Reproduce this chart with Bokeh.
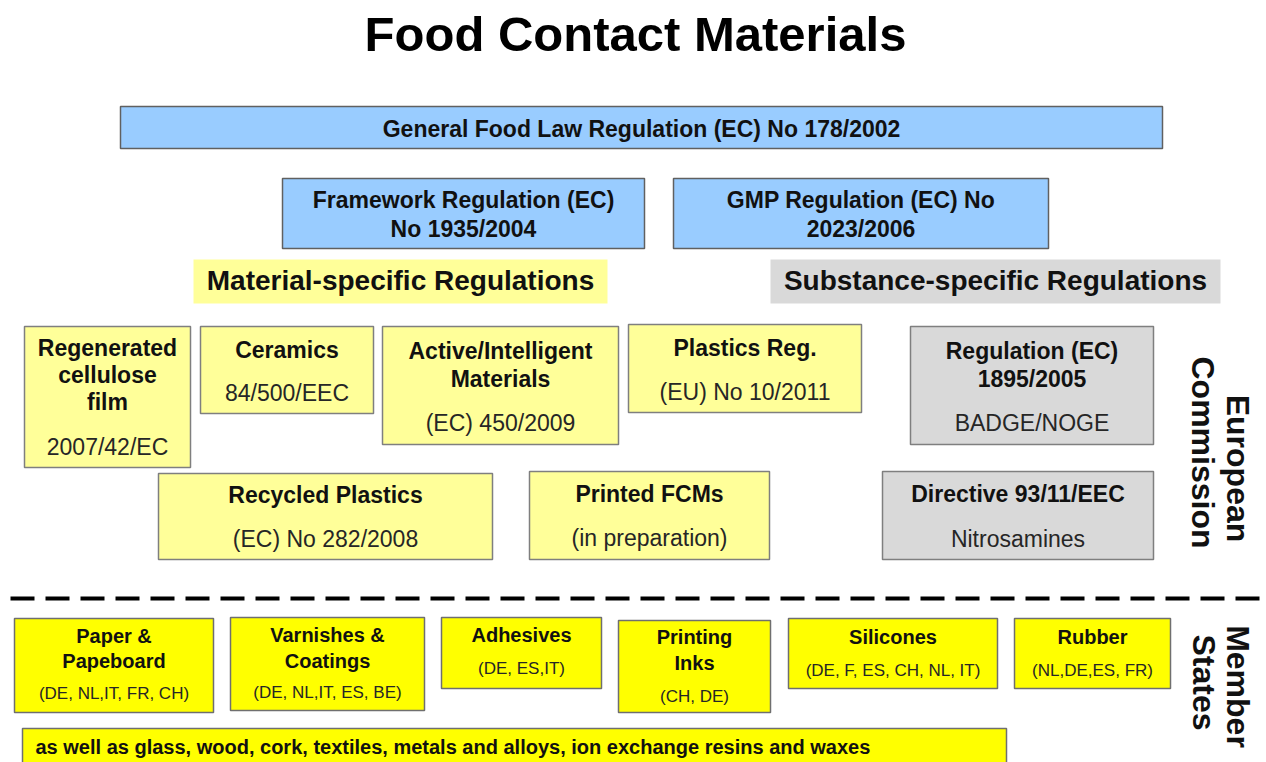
from math import pi
from bokeh.plotting import figure
from bokeh.models import Range1d
from bokeh.core.properties import value
from bokeh.embed import file_html
from bokeh.resources import INLINE

# ---------------- content ----------------
title = "Food Contact Materials"
general_law = ["General Food Law Regulation (EC) No 178/2002"]
framework_lines = [["Framework Regulation (EC)", "No 1935/2004"],
                   ["GMP Regulation (EC) No", "2023/2006"]]
group_labels = ["Material-specific Regulations", "Substance-specific Regulations"]
material_titles = [["Regenerated", "cellulose", "film"], ["Ceramics"],
                   ["Active/Intelligent", "Materials"], ["Plastics Reg."],
                   ["Recycled Plastics"], ["Printed FCMs"]]
material_refs = ["2007/42/EC", "84/500/EEC", "(EC) 450/2009", "(EU) No 10/2011",
                 "(EC) No 282/2008", "(in preparation)"]
substance_titles = [["Regulation (EC)", "1895/2005"], ["Directive 93/11/EEC"]]
substance_refs = ["BADGE/NOGE", "Nitrosamines"]
member_titles = [["Paper &", "Papeboard"], ["Varnishes &", "Coatings"], ["Adhesives"],
                 ["Printing", "Inks"], ["Silicones"], ["Rubber"]]
member_countries = ["(DE, NL,IT, FR, CH)", "(DE, NL,IT, ES, BE)", "(DE, ES,IT)",
                    "(CH, DE)", "(DE, F, ES, CH, NL, IT)", "(NL,DE,ES, FR)"]
other_materials = ["as well as glass, wood, cork, textiles, metals and alloys, ion exchange resins and waxes"]
side_labels = [["European", "Commission"], ["Member", "States"]]

# ---------------- layout (picture pixel coordinates) ----------------
general_box = [(120, 106, 1162, 148)]
general_text_y = [128]
framework_boxes = [(282, 178, 644, 248), (673, 178, 1048, 248)]
framework_text_y = [199, 228]
group_boxes = [(193, 259, 607, 303), (770, 259, 1220, 303)]
group_fill = ["#FFFF99", "#D9D9D9"]
material_boxes = [(24, 326, 190, 467), (200, 326, 373, 413), (382, 326, 618, 444),
                  (628, 324, 861, 412), (158, 473, 492, 559), (529, 471, 769, 559)]
material_title_y = [[347, 374, 401], [349], [350, 378], [347], [494], [493]]
material_ref_y = [446, 392, 422, 391, 538, 537]
substance_boxes = [(910, 326, 1153, 444), (882, 471, 1153, 559)]
substance_title_y = [[350, 378], [493]]
substance_ref_y = [422, 538]
member_boxes = [(14, 618, 213, 712), (230, 617, 424, 710), (441, 617, 601, 688),
                (618, 620, 770, 712), (788, 618, 997, 688), (1014, 618, 1170, 688)]
member_title_y = [[635, 660], [634, 660], [634], [636, 662], [636], [636]]
member_ref_y = [693, 692, 668, 696, 670, 670]
strip_box = [(22, 728, 1006, 775)]
side_pos = [[(1237, 468), (1202, 452)], [(1237, 686), (1203, 682)]]
divider_x = [10, 1266]
divider_y = [598, 598]

FONT = value("Liberation Sans")

W, H = 1266, 762
p = figure(width=W, height=H, x_range=Range1d(0, W), y_range=Range1d(-H, 0),
           output_backend="svg", toolbar_location=None, min_border=0,
           x_axis_location=None, y_axis_location=None)
p.grid.visible = False
p.outline_line_color = None
p.background_fill_color = "white"
p.border_fill_color = "white"


def boxes(rects, fill, line_color, lw=1.5):
    p.quad(left=[r[0] for r in rects], right=[r[2] for r in rects],
           top=[-r[1] for r in rects], bottom=[-r[3] for r in rects],
           fill_color=fill, line_color=line_color, line_width=lw)


def texts(xs, ys, ts, size, bold=True, color="#111111", align="center", angle=0.0):
    p.text(x=xs, y=[-y for y in ys], text=ts, text_font=FONT,
           text_font_size=value(f"{size}px"),
           text_font_style="bold" if bold else "normal",
           text_color=color, text_align=align, text_baseline="middle", angle=angle)


def cx(r):
    return (r[0] + r[2]) / 2


# title
texts([635], [33], [title], 49, color="#000000")

# general food law
boxes(general_box, "#99CCFF", "#606060")
texts([641], general_text_y, general_law, 23)

# framework / GMP
boxes(framework_boxes, "#99CCFF", "#606060")
for r, lines in zip(framework_boxes, framework_lines):
    texts([cx(r)] * len(lines), framework_text_y, lines, 23)

# group labels
for r, f, lab in zip(group_boxes, group_fill, group_labels):
    boxes([r], f, None, 0)
    texts([cx(r)], [(r[1] + r[3]) / 2 - 1], [lab], 28)

# material-specific
boxes(material_boxes, "#FFFF99", "#7F7F7F")
for r, lines, ly, ref, ry in zip(material_boxes, material_titles, material_title_y,
                                 material_refs, material_ref_y):
    texts([cx(r)] * len(lines), ly, lines, 23)
    texts([cx(r)], [ry], [ref], 23, bold=False, color="#262626")

# substance-specific
boxes(substance_boxes, "#D9D9D9", "#7F7F7F")
for r, lines, ly, ref, ry in zip(substance_boxes, substance_titles, substance_title_y,
                                 substance_refs, substance_ref_y):
    texts([cx(r)] * len(lines), ly, lines, 23)
    texts([cx(r)], [ry], [ref], 23, bold=False, color="#262626")

# divider
p.line(x=divider_x, y=[-y for y in divider_y], line_color="#000000", line_width=4,
       line_dash="24 11")

# member states
boxes(member_boxes, "#FFFF00", "#6F6F6F")
for r, lines, ly, ref, ry in zip(member_boxes, member_titles, member_title_y,
                                 member_countries, member_ref_y):
    texts([cx(r)] * len(lines), ly, lines, 20)
    texts([cx(r)], [ry], [ref], 17, bold=False, color="#262626")

boxes(strip_box, "#FFFF00", "#6F6F6F")
texts([35], [746], other_materials, 20, align="left")

# side labels (rotated clockwise)
for labs, pos in zip(side_labels, side_pos):
    for lab, (x, y) in zip(labs, pos):
        texts([x], [y], [lab], 32, angle=-pi / 2)

open("out.html", "w").write(file_html(p, INLINE))
